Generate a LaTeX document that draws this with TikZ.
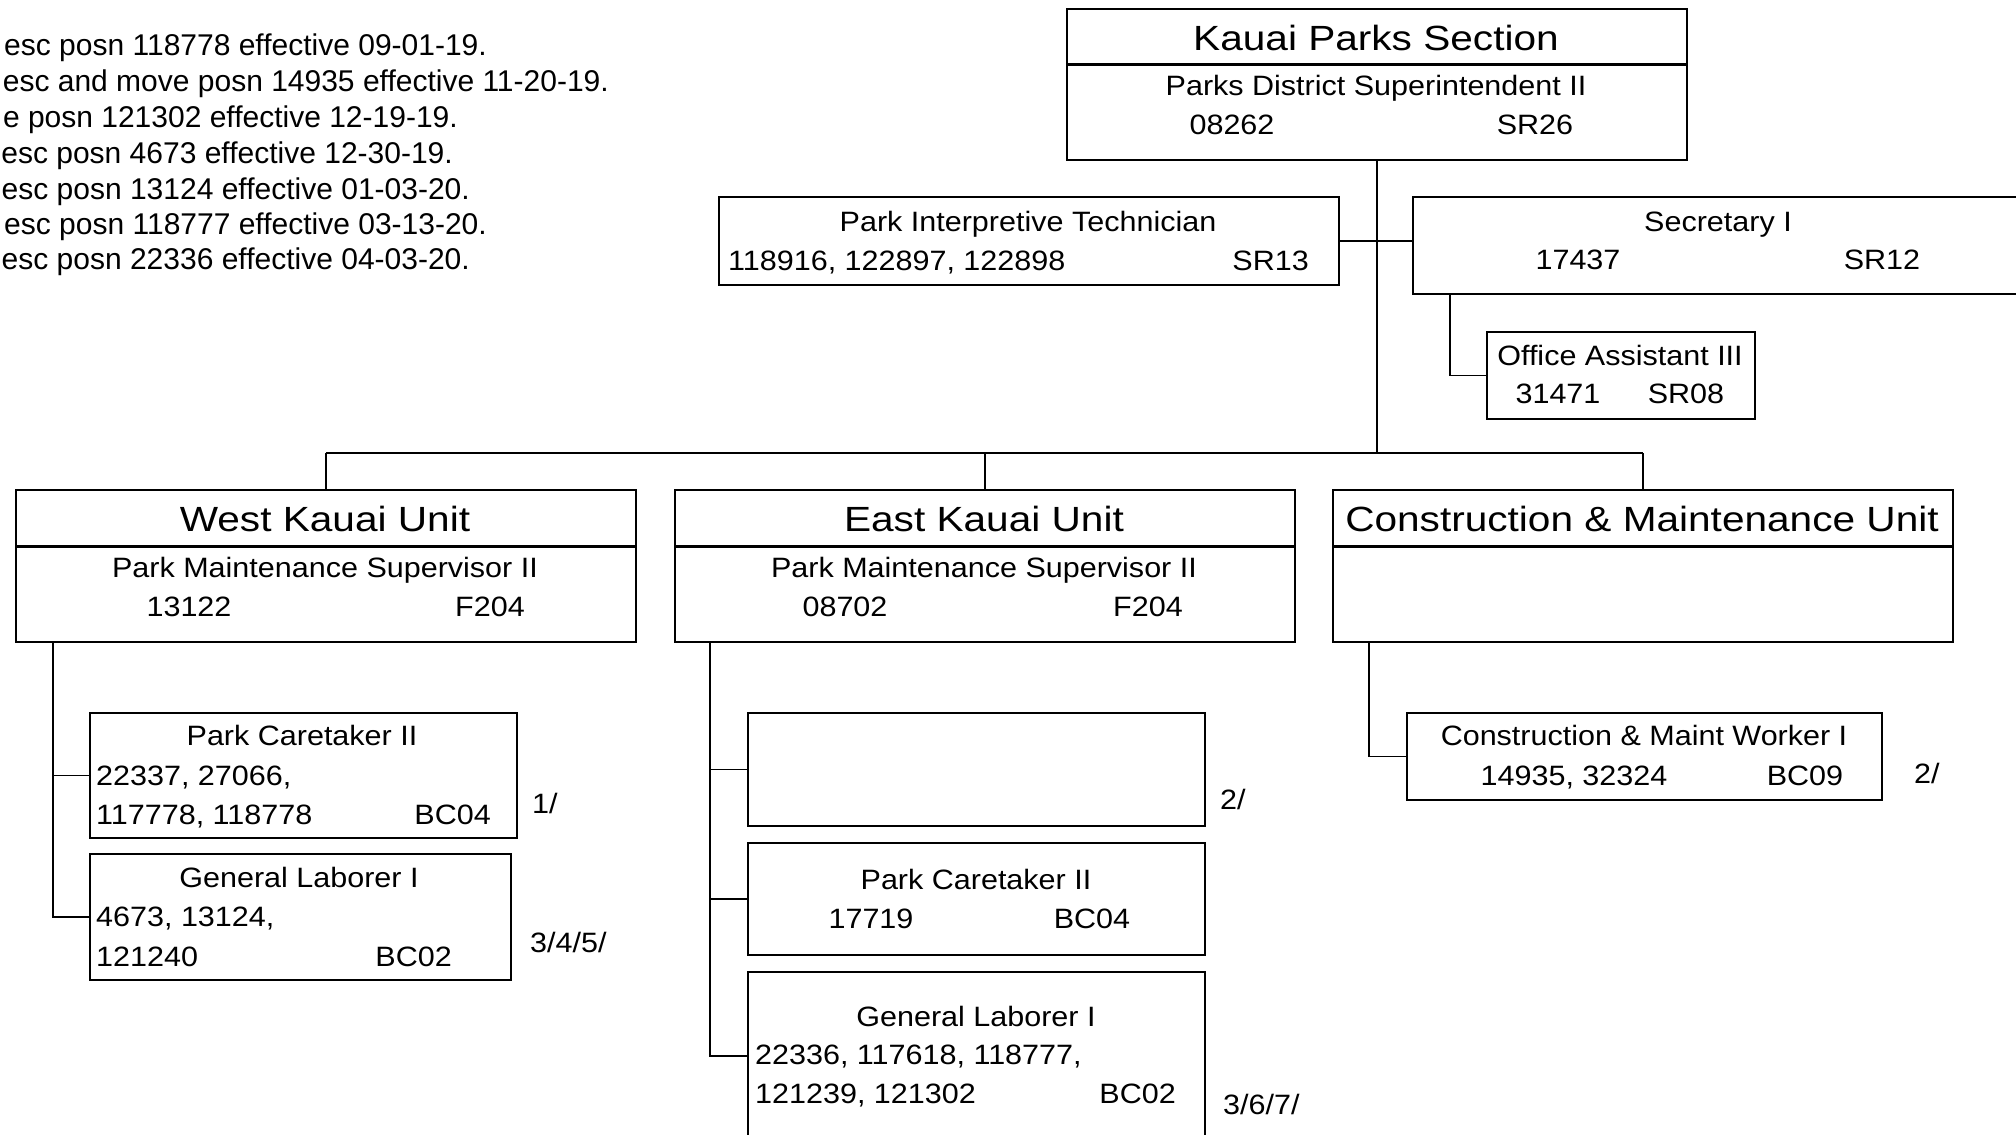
\documentclass[tikz,border=0pt]{standalone}
\usepackage{fontspec}
\setmainfont{Liberation Sans}
\newfontfamily\orgbodyfam{Liberation Sans}[FakeStretch=1.09]
\newfontfamily\orgheadfam{Liberation Sans}[FakeStretch=1.16]
\newcommand\orgbody{\orgbodyfam\fontsize{28}{34}\selectfont}
\newcommand\orghead{\orgheadfam\fontsize{35}{42}\selectfont}
\newcommand\orgnote{\rmfamily\fontsize{30}{36}\selectfont}
\usepackage{tikz}
\usetikzlibrary{positioning}
\definecolor{oline}{HTML}{000000}
\definecolor{otext}{HTML}{000000}
\tikzset{
  box/.style  = {draw=oline, fill=white, line width=1.9pt, inner sep=0pt,
                 rectangle, anchor=north west},
  unit/.style = {box, minimum width=620pt, minimum height=56pt},
  ubody/.style= {box, minimum width=620pt, minimum height=96pt},
  rule/.style = {draw=oline, line width=2.8pt},
  wire/.style = {draw=oline, line width=1.7pt},
  bus/.style  = {draw=oline, line width=2.4pt},
  hd/.style   = {font=\orghead, text=otext, inner sep=0pt, anchor=base},
  tx/.style   = {font=\orgbody, text=otext, inner sep=0pt, anchor=base},
  tl/.style   = {tx, anchor=base west},
  tr/.style   = {tx, anchor=base east},
  fn/.style   = {tx, anchor=base west},
  nt/.style   = {font=\orgnote, text=otext, inner sep=0pt, anchor=base east},
}

\begin{document}
\begin{tikzpicture}[x=1pt, y=-1pt]
\useasboundingbox (0,0) rectangle (2016,1135);

% ---- notes, top left
\node[nt] (n1) at (487,55)  {esc posn 118778 effective 09-01-19.};
\node[nt] (n2) at (609,91)  {esc and move posn 14935 effective 11-20-19.};
\node[nt] (n3) at (458,127) {e posn 121302 effective 12-19-19.};
\node[nt] (n4) at (453,163) {esc posn 4673 effective 12-30-19.};
\node[nt] (n5) at (470,199) {esc posn 13124 effective 01-03-20.};
\node[nt] (n6) at (487,234) {esc posn 118777 effective 03-13-20.};
\node[nt] (n7) at (470,269) {esc posn 22336 effective 04-03-20.};

% ---- section head
\node[box, minimum width=620pt, minimum height=55pt] (kps)  at (1066,8)  {};
\node[box, minimum width=620pt, minimum height=96pt] (kpsb) at (1066,63) {};
\draw[rule] (kps.south west) -- (kps.south east);
\node[hd] (kpsT) at (1376,50)  {Kauai Parks Section};
\node[tx] (kpsP) at (1376,95)  {Parks District Superintendent II};
\node[tx] (kpsN) at (1232,134) {08262};
\node[tx] (kpsG) at (1535,134) {SR26};

% ---- staff
\node[box, minimum width=620pt, minimum height=88pt] (pit) at (718,196) {};
\node[tx] (pitP) at (1028,231) {Park Interpretive Technician};
\node[tl] (pitN) at (728,270)  {118916, 122897, 122898};
\node[tr] (pitG) at (1309,270) {SR13};

\node[box, minimum width=700pt, minimum height=97pt] (sec) at (1412,196) {};
\node[tx] (secP) at (1718,231) {Secretary I};
\node[tx] (secN) at (1578,269) {17437};
\node[tx] (secG) at (1882,269) {SR12};

\node[box, minimum width=268pt, minimum height=87pt] (oa) at (1486,331) {};
\node[tx] (oaP) at (1620,365) {Office Assistant III};
\node[tx] (oaN) at (1558,403) {31471};
\node[tx] (oaG) at (1686,403) {SR08};

% ---- units
\node[unit]  (wku)  at (15,489)   {};
\node[ubody] (wkub) at (15,545)   {};
\node[unit]  (eku)  at (674,489)  {};
\node[ubody] (ekub) at (674,545)  {};
\node[unit]  (cmu)  at (1332,489) {};
\node[ubody] (cmub) at (1332,545) {};
\foreach \u in {wku,eku,cmu}
  \draw[rule] (\u.south west) -- (\u.south east);

\node[hd] (wkuT) at (325,531) {West Kauai Unit};
\node[tx] (wkuP) at (325,577) {Park Maintenance Supervisor II};
\node[tx] (wkuN) at (189,616) {13122};
\node[tx] (wkuG) at (490,616) {F204};

\node[hd] (ekuT) at (984,531)  {East Kauai Unit};
\node[tx] (ekuP) at (984,577)  {Park Maintenance Supervisor II};
\node[tx] (ekuN) at (845,616)  {08702};
\node[tx] (ekuG) at (1148,616) {F204};

\node[hd] (cmuT) at (1642,531) {Construction \& Maintenance Unit};

% ---- west kauai
\node[box, minimum width=427pt, minimum height=125pt] (wpc) at (89,712) {};
\node[tx] (wpcP)  at (302,745) {Park Caretaker II};
\node[tl] (wpcN1) at (96,785)  {22337, 27066,};
\node[tl] (wpcN2) at (96,824)  {117778, 118778};
\node[tr] (wpcG)  at (491,824) {BC04};
\node[fn] (wpcF)  at (532,813) {1/};

\node[box, minimum width=421pt, minimum height=126pt] (wgl) at (89,853) {};
\node[tx] (wglP)  at (299,887) {General Laborer I};
\node[tl] (wglN1) at (96,926)  {4673, 13124,};
\node[tl] (wglN2) at (96,966)  {121240};
\node[tr] (wglG)  at (452,966) {BC02};
\node[fn] (wglF)  at (530,952) {3/4/5/};

% ---- east kauai
\node[box, minimum width=457pt, minimum height=113pt] (evac) at (747,712) {};
\node[fn] (evacF) at (1220,809) {2/};

\node[box, minimum width=457pt, minimum height=112pt] (epc) at (747,842) {};
\node[tx] (epcP) at (976,889)  {Park Caretaker II};
\node[tx] (epcN) at (871,928)  {17719};
\node[tx] (epcG) at (1092,928) {BC04};

\node[box, minimum width=457pt, minimum height=168pt] (egl) at (747,971) {};
\node[tx] (eglP)  at (976,1026)  {General Laborer I};
\node[tl] (eglN1) at (755,1064)  {22336, 117618, 118777,};
\node[tl] (eglN2) at (755,1103)  {121239, 121302};
\node[tr] (eglG)  at (1176,1103) {BC02};
\node[fn] (eglF)  at (1223,1114) {3/6/7/};

% ---- construction & maintenance
\node[box, minimum width=475pt, minimum height=87pt] (cmw) at (1406,712) {};
\node[tx] (cmwP) at (1644,745) {Construction \& Maint Worker I};
\node[tx] (cmwN) at (1574,785) {14935, 32324};
\node[tx] (cmwG) at (1805,785) {BC09};
\node[fn] (cmwF) at (1914,783) {2/};

% ---- lines
\coordinate (bus) at (0,453);
\draw[wire] (kpsb.south) -- (kpsb.south |- bus);
\draw[wire] (pit.east) -- (pit.east -| sec.west);
\draw[wire] ([xshift=38pt]sec.south west) |- (oa.west);
\draw[bus]  (wku.north |- bus) -- (cmu.north |- bus);
\foreach \u in {wku,eku,cmu}
  \draw[wire] (\u.north |- bus) -- (\u.north);

\draw[wire] ([xshift=38pt]wkub.south west) |- (wgl.west);
\draw[wire] (wpc.west) -- ++(-36,0);
\draw[wire] ([xshift=36pt]ekub.south west) |- (egl.west);
\draw[wire] (evac.west) -- ++(-37,0);
\draw[wire] (epc.west) -- ++(-37,0);
\draw[wire] ([xshift=37pt]cmub.south west) |- (cmw.west);

\end{tikzpicture}
\end{document}
